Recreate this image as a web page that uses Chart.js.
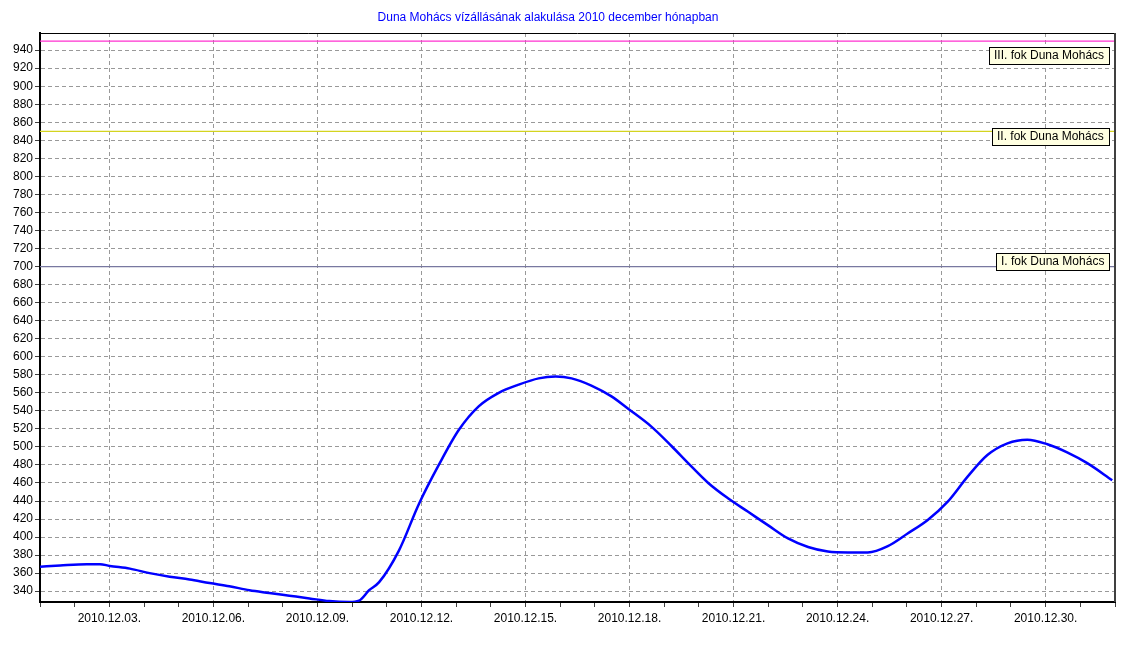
<!DOCTYPE html>
<html>
  <head>
    <meta charset="utf-8">
    <title>Duna Mohács vízállás</title>
    <script src="https://cdn.jsdelivr.net/npm/chart.js@4/dist/chart.umd.min.js"></script>
    <style>
        body {
            margin: 0;
            background: #ffffff;
        }
        .chart-box {
            position: relative;
            width: 1140px;
            height: 670px;
        }
        .chart-title {
            position: absolute;
            left: 0;
            top: 10px;
            width: 1096px;
            text-align: center;
            font: 12px "Liberation Sans", Arial, sans-serif;
            color: #0000ff;
        }
    </style>
</head>
<body>
    <div class="chart-box">
        <div class="chart-title">Duna Mohács vízállásának alakulása 2010 december hónapban</div>
        <canvas id="myChart" width="1140" height="670"></canvas>
    </div>
    <script>
        // day of month (1 = 2010.12.01. 00:00) and water level in cm
        const days = [1.00, 1.58, 2.35, 2.73, 3.01, 3.59, 4.16, 4.74, 5.31, 5.89, 6.46, 7.04, 7.61, 8.19,
            8.77, 9.34, 9.92, 10.20, 10.49, 10.78, 11.35, 11.93, 12.50, 13.08, 13.65, 14.23, 14.80, 15.38,
            15.87, 16.33, 16.90, 17.48, 17.97, 18.63, 19.21, 19.69, 20.27, 20.84, 21.42, 22.00, 22.57,
            23.15, 23.72, 24.30, 24.87, 25.45, 26.02, 26.60, 27.17, 27.75, 28.32, 28.90, 29.47, 30.05,
            30.62, 31.20, 31.92];
        const levels = [367, 368.5, 370, 370, 368, 365, 360, 356, 353, 349, 345.5, 341, 338, 335,
            332, 329, 328, 329.5, 341, 350, 385, 437, 480, 519, 545, 560, 569, 576,
            578, 576, 568, 556, 542, 522.5, 501, 482, 460, 443, 428, 413, 398.5,
            389, 384, 383, 383, 390, 404, 419, 439, 467, 491, 504, 508, 503,
            494, 482, 463];

        // alert levels
        const alertNames = ['III. fok Duna Mohács', 'II. fok Duna Mohács', 'I. fok Duna Mohács'];
        const alertValues = [950, 850, 700];
        const alertColors = ['#ff30d0', '#d4d420', '#7878a0'];
        const alertBoxOffsets = [14, 5, -6];

        // axes
        const xTickDays = [3, 6, 9, 12, 15, 18, 21, 24, 27, 30];
        const xTickLabels = ['2010.12.03.', '2010.12.06.', '2010.12.09.', '2010.12.12.', '2010.12.15.',
            '2010.12.18.', '2010.12.21.', '2010.12.24.', '2010.12.27.', '2010.12.30.'];
        const yTicks = [340, 360, 380, 400, 420, 440, 460, 480, 500, 520, 540, 560, 580, 600, 620, 640,
            660, 680, 700, 720, 740, 760, 780, 800, 820, 840, 860, 880, 900, 920, 940];
        const xMin = 1, xMax = 32, yMin = 328, yMax = 959;

        const fontFamily = '"Liberation Sans", Arial, sans-serif';

        const alertDatasets = alertValues.map((v, i) => ({
            data: [{x: xMin, y: v}, {x: xMax, y: v}],
            borderColor: alertColors[i],
            borderWidth: 1.3,
            pointRadius: 0
        }));

        const alertLabels = {
            id: 'alertLabels',
            afterDatasetsDraw(chart) {
                const ctx = chart.ctx;
                const area = chart.chartArea;
                ctx.save();
                ctx.font = '12px ' + fontFamily;
                ctx.textBaseline = 'middle';
                alertValues.forEach((v, i) => {
                    const y = Math.round(chart.scales.y.getPixelForValue(v) + alertBoxOffsets[i]);
                    const w = Math.round(ctx.measureText(alertNames[i]).width + 10);
                    const h = 17;
                    const right = Math.round(area.right - 6);
                    const top = Math.round(y - h / 2);
                    ctx.fillStyle = '#ffffe1';
                    ctx.fillRect(right - w, top, w, h);
                    ctx.strokeStyle = '#000000';
                    ctx.lineWidth = 1;
                    ctx.strokeRect(right - w + 0.5, top + 0.5, w, h);
                    ctx.fillStyle = '#000000';
                    ctx.fillText(alertNames[i], right - w + 5, y + 1);
                });
                // frame
                ctx.strokeStyle = '#000000';
                ctx.lineWidth = 1;
                ctx.beginPath();
                ctx.moveTo(area.left, area.top + 0.5);
                ctx.lineTo(area.right, area.top + 0.5);
                ctx.stroke();
                ctx.strokeStyle = '#404040';
                ctx.lineWidth = 2;
                ctx.beginPath();
                ctx.moveTo(area.right, area.top);
                ctx.lineTo(area.right, area.bottom);
                ctx.stroke();
                ctx.restore();
            }
        };

        var ctx = document.getElementById('myChart').getContext('2d');
        var chart = new Chart(ctx, {
            type: 'line',
            data: {
                datasets: [{
                    data: days.map((d, i) => ({x: d, y: levels[i]})),
                    borderColor: '#0000ff',
                    borderWidth: 2.5,
                    pointRadius: 0,
                    cubicInterpolationMode: 'monotone'
                }].concat(alertDatasets)
            },
            options: {
                responsive: false,
                animation: false,
                layout: {
                    padding: {top: 33, right: 25, left: 0, bottom: 0}
                },
                plugins: {
                    legend: {display: false},
                    tooltip: {enabled: false}
                },
                scales: {
                    x: {
                        type: 'linear',
                        min: xMin,
                        max: xMax,
                        afterBuildTicks: scale => {
                            const t = [];
                            for (let d = xMin; d <= xMax; d++) t.push({value: d});
                            scale.ticks = t;
                        },
                        afterFit: scale => { scale.height = 68; },
                        ticks: {
                            autoSkip: false,
                            maxRotation: 0,
                            padding: 4,
                            color: '#000000',
                            font: {family: fontFamily, size: 12},
                            callback: value => {
                                const k = xTickDays.indexOf(value);
                                return k >= 0 ? xTickLabels[k] : '';
                            }
                        },
                        grid: {
                            color: c => (c.tick && xTickDays.includes(c.tick.value)) ? '#999999' : 'rgba(0,0,0,0)',
                            tickColor: '#404040',
                            tickLength: 5,
                            lineWidth: 1
                        },
                        border: {color: '#000000', width: 2, dash: [4, 3]}
                    },
                    y: {
                        min: yMin,
                        max: yMax,
                        afterBuildTicks: scale => {
                            scale.ticks = yTicks.map(v => ({value: v}));
                        },
                        afterFit: scale => { scale.width = 40; },
                        ticks: {
                            padding: 2,
                            color: '#000000',
                            font: {family: fontFamily, size: 12}
                        },
                        grid: {
                            color: '#999999',
                            tickColor: '#404040',
                            tickLength: 5,
                            lineWidth: 1
                        },
                        border: {color: '#000000', width: 2, dash: [4, 3]}
                    }
                }
            },
            plugins: [alertLabels]
        });
    </script>
</body>
</html>
